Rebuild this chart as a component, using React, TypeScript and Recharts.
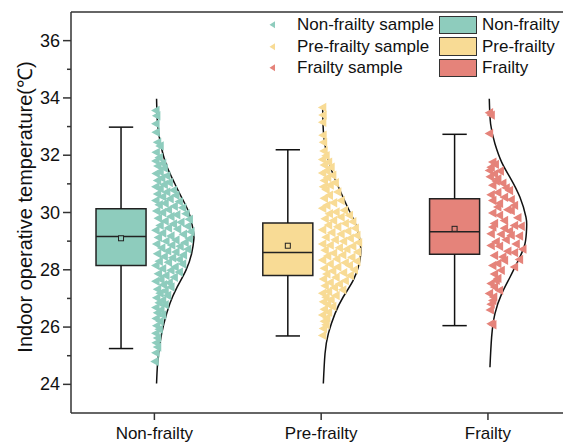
import React from "react";
import {
  ComposedChart,
  Scatter,
  Line,
  XAxis,
  YAxis,
  ReferenceArea,
  ReferenceLine,
  Legend,
} from "recharts";

const groups = ["Non-frailty", "Pre-frailty", "Frailty"];
const groupPos = [1, 2, 3];
const boxColors = ["#8ECCBD", "#F8DB95", "#E5837A"];

// box statistics
const whiskerLow = [25.25, 25.69, 26.05];
const q1 = [28.15, 27.8, 28.54];
const medians = [29.16, 28.6, 29.33];
const q3 = [30.13, 29.63, 30.48];
const whiskerHigh = [32.98, 32.19, 32.73];
const means = [29.1, 28.84, 29.43];

// fitted distribution curves: [temperature, density offset]
const nonFrailCurve = [
  [33.97, 0.013], [33.09, 0.019], [32.4, 0.037], [31.7, 0.069], [31.12, 0.113],
  [30.53, 0.163], [29.96, 0.209], [29.37, 0.233], [29.09, 0.237], [28.56, 0.223],
  [27.98, 0.189], [27.4, 0.137], [26.82, 0.093], [26.12, 0.057], [25.42, 0.033],
  [24.72, 0.019], [24.03, 0.013],
];
const preFrailCurve = [
  [33.73, 0.009], [32.86, 0.013], [32.16, 0.029], [31.47, 0.063], [30.77, 0.113],
  [30.07, 0.168], [29.49, 0.213], [28.79, 0.237], [28.21, 0.228], [27.63, 0.192],
  [27.05, 0.132], [26.47, 0.083], [25.77, 0.043], [25.07, 0.023], [24.03, 0.013],
];
const frailCurve = [
  [33.97, 0.008], [33.09, 0.016], [32.4, 0.042], [31.76, 0.082], [31.23, 0.132],
  [30.53, 0.192], [29.84, 0.228], [29.49, 0.232], [28.91, 0.222], [28.33, 0.182],
  [27.74, 0.132], [27.16, 0.082], [26.47, 0.042], [25.65, 0.022], [24.6, 0.012],
];

// samples: [temperature, jitter]
const nonFrailSamples = [
  [33.56, 0.01], [33.38, 0.015], [33.1, 0.01], [32.8, 0.012], [32.45, 0.02], [32.32, 0.035],
  [32.1, 0.012], [31.92, 0.03], [31.8, 0.01], [31.72, 0.05], [31.62, 0.022], [31.55, 0.06],
  [31.42, 0.035], [31.36, 0.012], [31.28, 0.075], [31.2, 0.045], [31.12, 0.02], [31.05, 0.09],
  [30.98, 0.06], [30.9, 0.01], [30.84, 0.035], [30.78, 0.115], [30.72, 0.075], [30.65, 0.02],
  [30.6, 0.13], [30.55, 0.05], [30.48, 0.095], [30.42, 0.01], [30.38, 0.15], [30.32, 0.065],
  [30.27, 0.03], [30.22, 0.12], [30.17, 0.17], [30.1, 0.085], [30.05, 0.015], [30.0, 0.05],
  [29.96, 0.19], [29.92, 0.135], [29.86, 0.1], [29.8, 0.025], [29.76, 0.21], [29.7, 0.065],
  [29.66, 0.16], [29.6, 0.115], [29.55, 0.035], [29.52, 0.2], [29.46, 0.085], [29.42, 0.14],
  [29.38, 0.01], [29.33, 0.22], [29.28, 0.05], [29.24, 0.175], [29.18, 0.1], [29.13, 0.025],
  [29.08, 0.21], [29.04, 0.13], [29.0, 0.07], [28.95, 0.185], [28.9, 0.015], [28.86, 0.105],
  [28.82, 0.155], [28.76, 0.045], [28.72, 0.2], [28.66, 0.08], [28.62, 0.13], [28.56, 0.02],
  [28.52, 0.175], [28.46, 0.06], [28.42, 0.11], [28.36, 0.15], [28.3, 0.03], [28.26, 0.085],
  [28.2, 0.17], [28.15, 0.01], [28.1, 0.125], [28.04, 0.05], [27.98, 0.1], [27.92, 0.15],
  [27.86, 0.025], [27.8, 0.07], [27.74, 0.12], [27.66, 0.04], [27.6, 0.01], [27.55, 0.09],
  [27.48, 0.055], [27.4, 0.1], [27.32, 0.02], [27.26, 0.065], [27.18, 0.035], [27.1, 0.08],
  [27.02, 0.015], [26.94, 0.05], [26.85, 0.03], [26.78, 0.065], [26.68, 0.01], [26.6, 0.04],
  [26.5, 0.02], [26.42, 0.05], [26.3, 0.012], [26.2, 0.035], [26.05, 0.015], [25.92, 0.03],
  [25.78, 0.01], [25.62, 0.02], [25.45, 0.012], [25.3, 0.02], [25.1, 0.01], [24.8, 0.005],
];
const preFrailSamples = [
  [33.67, 0.01], [33.4, 0.012], [33.15, 0.01], [32.7, 0.012], [32.45, 0.015], [32.15, 0.018],
  [31.98, 0.03], [31.85, 0.01], [31.76, 0.045], [31.66, 0.02], [31.58, 0.06], [31.46, 0.035],
  [31.38, 0.01], [31.3, 0.07], [31.22, 0.04], [31.12, 0.02], [31.04, 0.085], [30.96, 0.055],
  [30.9, 0.015], [30.8, 0.03], [30.72, 0.1], [30.6, 0.05], [30.5, 0.02], [30.42, 0.12],
  [30.34, 0.075], [30.25, 0.035], [30.15, 0.01], [30.08, 0.14], [30.02, 0.09], [29.96, 0.05],
  [29.9, 0.17], [29.84, 0.12], [29.78, 0.025], [29.72, 0.075], [29.68, 0.19], [29.62, 0.145],
  [29.56, 0.045], [29.5, 0.1], [29.45, 0.205], [29.4, 0.01], [29.35, 0.16], [29.3, 0.065],
  [29.25, 0.12], [29.2, 0.215], [29.14, 0.03], [29.1, 0.175], [29.05, 0.085], [29.0, 0.135],
  [28.95, 0.225], [28.9, 0.01], [28.86, 0.055], [28.82, 0.19], [28.77, 0.11], [28.72, 0.155],
  [28.68, 0.025], [28.62, 0.22], [28.58, 0.075], [28.52, 0.13], [28.48, 0.04], [28.44, 0.185],
  [28.38, 0.095], [28.34, 0.01], [28.3, 0.215], [28.25, 0.145], [28.2, 0.055], [28.15, 0.17],
  [28.1, 0.1], [28.05, 0.02], [28.0, 0.2], [27.96, 0.07], [27.9, 0.135], [27.85, 0.035],
  [27.8, 0.175], [27.74, 0.09], [27.68, 0.015], [27.62, 0.145], [27.56, 0.055], [27.5, 0.11],
  [27.44, 0.025], [27.38, 0.08], [27.3, 0.13], [27.24, 0.045], [27.18, 0.01], [27.1, 0.09],
  [27.04, 0.03], [26.96, 0.06], [26.88, 0.015], [26.8, 0.04], [26.72, 0.07], [26.62, 0.02],
  [26.52, 0.045], [26.42, 0.01], [26.32, 0.035], [26.2, 0.02], [26.08, 0.03], [25.95, 0.015],
  [25.71, 0.01],
];
const frailSamples = [
  [33.48, 0.01], [33.4, 0.02], [32.76, 0.01], [31.76, 0.03], [31.68, 0.045], [31.58, 0.02],
  [31.47, 0.01], [31.45, 0.075], [31.35, 0.04], [31.25, 0.015], [31.18, 0.06], [31.1, 0.05],
  [31.02, 0.09], [30.95, 0.03], [30.86, 0.11], [30.77, 0.13], [30.7, 0.06], [30.62, 0.02],
  [30.53, 0.1], [30.45, 0.14], [30.42, 0.03], [30.32, 0.07], [30.25, 0.16], [30.19, 0.06],
  [30.1, 0.12], [30.07, 0.14], [29.98, 0.03], [29.9, 0.07], [29.82, 0.18], [29.72, 0.1],
  [29.62, 0.04], [29.55, 0.16], [29.52, 0.2], [29.49, 0.03], [29.45, 0.1], [29.35, 0.13],
  [29.26, 0.02], [29.24, 0.08], [29.2, 0.14], [29.18, 0.19], [29.05, 0.11], [28.98, 0.05],
  [28.9, 0.17], [28.85, 0.02], [28.82, 0.07], [28.72, 0.21], [28.65, 0.12], [28.6, 0.16],
  [28.5, 0.04], [28.45, 0.09], [28.36, 0.19], [28.33, 0.1], [28.22, 0.06], [28.15, 0.03],
  [28.1, 0.16], [27.98, 0.08], [27.85, 0.04], [27.7, 0.06], [27.63, 0.05], [27.52, 0.02],
  [27.4, 0.04], [27.28, 0.07], [27.17, 0.01], [27.05, 0.035], [26.93, 0.03], [26.8, 0.02],
  [26.6, 0.015], [26.12, 0.02], [26.08, 0.03],
];

const curves = [nonFrailCurve, preFrailCurve, frailCurve];
const samples = [nonFrailSamples, preFrailSamples, frailSamples];

const yTicks = [24, 25, 26, 27, 28, 29, 30, 31, 32, 33, 34, 35, 36];

const FONT = "'Liberation Sans', Arial, sans-serif";
const AXIS = "#333";
const BOX_OFFSET = -0.2;
const BOX_HALF = 0.15;
const CAP_HALF = 0.073;

const Triangle = (props: any) => {
  const { cx, cy, fill } = props;
  if (cx == null || cy == null) return null;
  return (
    <polygon
      points={`${cx - 5},${cy} ${cx + 3.5},${cy - 4.7} ${cx + 3.5},${cy + 4.7}`}
      fill={fill}
    />
  );
};

const MeanSquare = (props: any) => {
  const { cx, cy, fill } = props;
  if (cx == null || cy == null) return null;
  return <rect x={cx - 2.5} y={cy - 2.5} width={5} height={5} fill={fill} stroke="#222" strokeWidth={1} />;
};

const YTick = ({ x, y, payload }: any) => {
  const major = payload.value % 2 === 0;
  return (
    <g>
      <line x1={x - (major ? 8 : 4)} x2={x} y1={y} y2={y} stroke={AXIS} strokeWidth={1.5} />
      {major && (
        <text x={x - 11} y={y} dy={6} textAnchor="end" fontSize={18} fontFamily={FONT} fill="#111">
          {payload.value}
        </text>
      )}
    </g>
  );
};

const XTick = ({ x, y, payload }: any) => (
  <g>
    <line x1={x} x2={x} y1={y} y2={y + 7} stroke={AXIS} strokeWidth={1.5} />
    <text x={x} y={y + 26} textAnchor="middle" fontSize={17} fontFamily={FONT} fill="#111">
      {groups[groupPos.indexOf(payload.value)]}
    </text>
  </g>
);

const YLabel = () => (
  <text
    x={25}
    y={207}
    transform="rotate(-90, 25, 207)"
    textAnchor="middle"
    dy="0.35em"
    fontSize={20}
    fontFamily={FONT}
    fill="#111"
  >
    Indoor operative temperature(℃)
  </text>
);

const LegendBox = () => {
  const rowH = 21.6;
  return (
    <div style={{ position: "relative", width: 300, height: rowH * 3, fontFamily: FONT, fontSize: 17, color: "#111" }}>
      {groups.map((g, i) => (
        <React.Fragment key={g}>
          <svg style={{ position: "absolute", left: 0, top: i * rowH }} width={10} height={rowH}>
            <polygon points={`1.5,${rowH / 2} 7,${rowH / 2 - 3.5} 7,${rowH / 2 + 3.5}`} fill={boxColors[i]} />
          </svg>
          <div style={{ position: "absolute", left: 29, top: i * rowH, lineHeight: `${rowH}px`, whiteSpace: "nowrap" }}>
            {g} sample
          </div>
          <div
            style={{
              position: "absolute",
              left: 171,
              top: i * rowH + 1.5,
              width: 38,
              height: 18.5,
              boxSizing: "border-box",
              border: `1.5px solid ${AXIS}`,
              background: boxColors[i],
            }}
          />
          <div style={{ position: "absolute", left: 214, top: i * rowH, lineHeight: `${rowH}px`, whiteSpace: "nowrap" }}>
            {g}
          </div>
        </React.Fragment>
      ))}
    </div>
  );
};

export default function App() {
  return (
    <div style={{ position: "absolute", left: 0, top: 0, width: 563, height: 446, background: "#fff" }}>
      <ComposedChart width={563} height={446} margin={{ top: 12, right: 0, left: 0, bottom: 0 }}>
        <XAxis
          type="number"
          dataKey="x"
          domain={[0.5, 3.45]}
          allowDataOverflow
          ticks={groupPos}
          height={33}
          tickSize={0}
          tickMargin={0}
          tickLine={false}
          axisLine={{ stroke: AXIS, strokeWidth: 1.5 }}
          tick={<XTick />}
        />
        <YAxis
          type="number"
          dataKey="y"
          domain={[23, 37]}
          allowDataOverflow
          ticks={yTicks}
          interval={0}
          width={71}
          tickSize={0}
          tickMargin={0}
          tickLine={false}
          axisLine={{ stroke: AXIS, strokeWidth: 1.5 }}
          tick={<YTick />}
          label={<YLabel />}
        />
        <ReferenceLine y={37} stroke={AXIS} strokeWidth={1.5} />

        {groups.map((g, i) => (
          <ReferenceArea
            key={`box-${g}`}
            x1={groupPos[i] + BOX_OFFSET - BOX_HALF}
            x2={groupPos[i] + BOX_OFFSET + BOX_HALF}
            y1={q1[i]}
            y2={q3[i]}
            fill={boxColors[i]}
            fillOpacity={1}
            stroke="#222"
            strokeWidth={1.5}
          />
        ))}
        {groups.map((g, i) => {
          const c = groupPos[i] + BOX_OFFSET;
          return (
            <React.Fragment key={`wh-${g}`}>
              <ReferenceLine segment={[{ x: c, y: q3[i] }, { x: c, y: whiskerHigh[i] }]} stroke="#111" strokeWidth={1.5} />
              <ReferenceLine segment={[{ x: c, y: q1[i] }, { x: c, y: whiskerLow[i] }]} stroke="#111" strokeWidth={1.5} />
              <ReferenceLine
                segment={[{ x: c - CAP_HALF, y: whiskerHigh[i] }, { x: c + CAP_HALF, y: whiskerHigh[i] }]}
                stroke="#111"
                strokeWidth={1.5}
              />
              <ReferenceLine
                segment={[{ x: c - CAP_HALF, y: whiskerLow[i] }, { x: c + CAP_HALF, y: whiskerLow[i] }]}
                stroke="#111"
                strokeWidth={1.5}
              />
              <ReferenceLine
                segment={[{ x: c - BOX_HALF, y: medians[i] }, { x: c + BOX_HALF, y: medians[i] }]}
                stroke="#222"
                strokeWidth={1.5}
              />
            </React.Fragment>
          );
        })}

        {groups.map((g, i) => (
          <Scatter
            key={`s-${g}`}
            name={`${g} sample`}
            data={samples[i].map(([y, dx]) => ({ x: groupPos[i] + dx, y }))}
            fill={boxColors[i]}
            shape={<Triangle />}
            isAnimationActive={false}
          />
        ))}
        {groups.map((g, i) => (
          <Line
            key={`c-${g}`}
            data={curves[i].map(([y, w]) => ({ x: groupPos[i] + w, y }))}
            dataKey="y"
            type="natural"
            stroke="#111"
            strokeWidth={1.5}
            dot={false}
            activeDot={false}
            isAnimationActive={false}
          />
        ))}
        {groups.map((g, i) => (
          <Scatter
            key={`m-${g}`}
            data={[{ x: groupPos[i] + BOX_OFFSET, y: means[i] }]}
            fill={boxColors[i]}
            shape={<MeanSquare />}
            isAnimationActive={false}
          />
        ))}
        <Legend
          layout="horizontal"
          verticalAlign="middle"
          align="center"
          wrapperStyle={{ top: 14, left: 268, width: 300, height: 65 }}
          content={() => <LegendBox />}
        />
      </ComposedChart>
    </div>
  );
}
